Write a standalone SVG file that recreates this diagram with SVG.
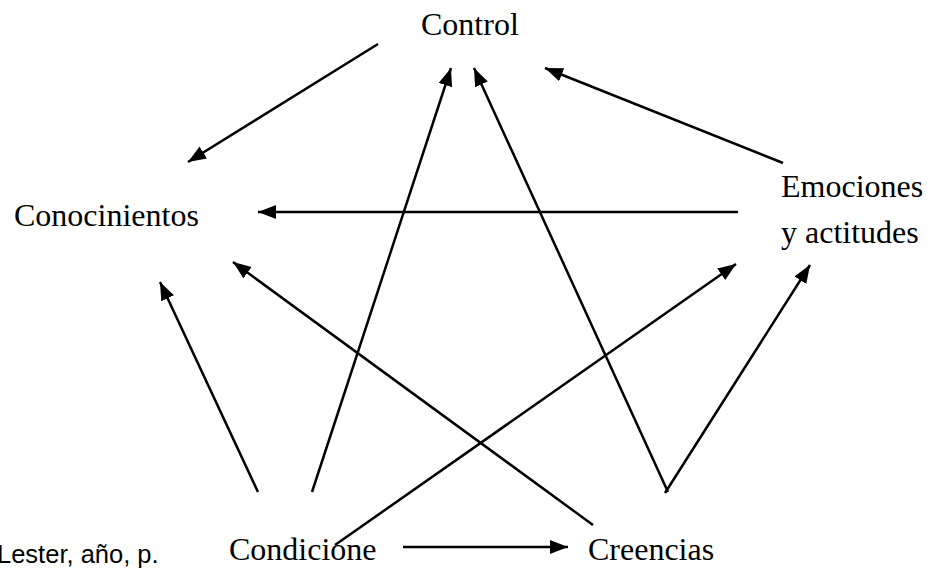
<svg xmlns="http://www.w3.org/2000/svg" width="927" height="569" viewBox="0 0 927 569">
<style>
.lbl{font-family:"Liberation Serif","Times New Roman",serif;font-size:32px;fill:#000}
.note{font-family:"Liberation Sans",Arial,sans-serif;font-size:25.5px;fill:#000}
.c line{stroke:#000;stroke-width:2.5;marker-end:url(#ah)}
</style>
<defs>
<marker id="ah" markerUnits="userSpaceOnUse" markerWidth="20" markerHeight="16" refX="18" refY="7" orient="auto">
<path d="M0,0 L18,7 L0,14 z" fill="#000"/>
</marker>
</defs>
<rect width="927" height="569" fill="#fff"/>
<g id="control"><text class="lbl" x="421" y="35">Control</text></g>
<g id="conocimientos"><text class="lbl" x="14" y="226">Conocinientos</text></g>
<g id="emociones"><text class="lbl" x="781" y="197">Emociones</text><text class="lbl" x="781" y="243">y actitudes</text></g>
<g id="condiciones"><text class="lbl" x="229" y="560">Condicione</text></g>
<g id="creencias"><text class="lbl" x="588" y="560">Creencias</text></g>
<g id="nota"><text class="note" x="-3" y="563">Lester, año, p.</text></g>
<g id="connectors" class="c">
<line x1="378" y1="44" x2="188" y2="162"/>
<line x1="738" y1="212" x2="258" y2="212"/>
<line x1="783" y1="163" x2="545" y2="68"/>
<line x1="312" y1="492" x2="451" y2="68"/>
<line x1="668" y1="492" x2="474" y2="68"/>
<line x1="258" y1="492" x2="160" y2="282"/>
<line x1="593" y1="525" x2="233" y2="262"/>
<line x1="335" y1="545" x2="736" y2="264"/>
<line x1="665" y1="493" x2="810" y2="265"/>
<line x1="403" y1="547" x2="568" y2="547"/>
</g>
</svg>
